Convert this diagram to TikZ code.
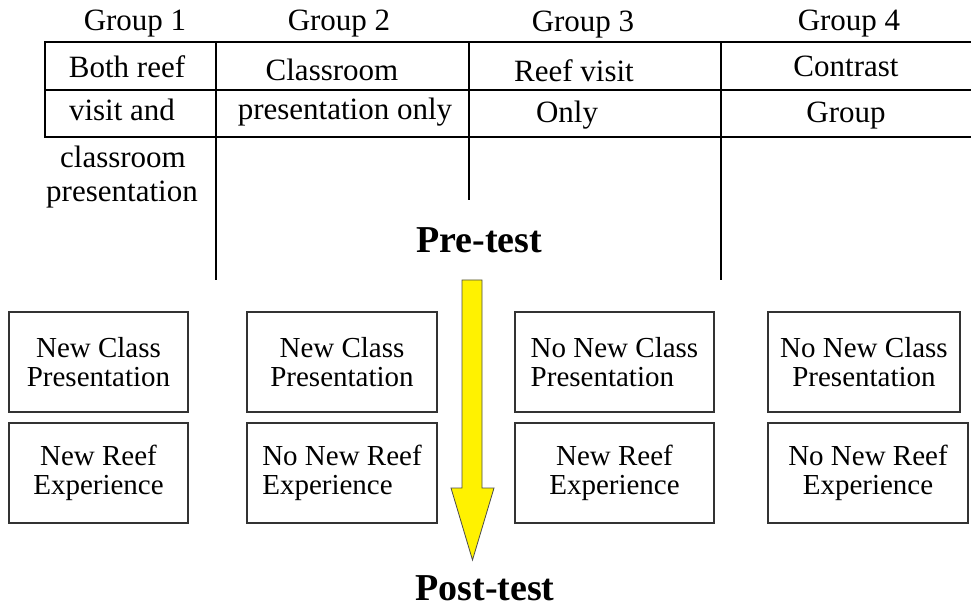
\documentclass[tikz,border=0pt]{standalone}
\usepackage{fontspec}
\setmainfont{Liberation Serif}
\begin{document}
\begin{tikzpicture}[x=1pt,y=-1pt,
  lbl/.style={font=\fontsize{31}{33}\selectfont,inner sep=0pt,anchor=base},
  ttl/.style={font=\fontsize{38}{40}\selectfont\bfseries,inner sep=0pt,anchor=base},
  cond/.style={draw=black!80,line width=1.4pt,minimum height=100,inner sep=0pt,
    align=center,font=\fontsize{29}{29}\selectfont}]
  \useasboundingbox (0,0) rectangle (971,609);
  \draw[line width=1.4pt] (971,42) -- (45,42) -- (45,137) -- (971,137);
  \draw[line width=1.4pt] (45,90) -- (971,90);
  \draw[line width=1.3pt] (216,42) -- (216,280);
  \draw[line width=1.3pt] (469,42) -- (469,200);
  \draw[line width=1.3pt] (721,42) -- (721,280);
  \node[lbl] (g1) at (135,31) {Group 1};
  \node[lbl] (g2) at (339,31) {Group 2};
  \node[lbl] (g3) at (583,32) {Group 3};
  \node[lbl] (g4) at (849,31) {Group 4};
  \node[lbl] (t11) at (127,78) {Both reef};
  \node[lbl] (t12) at (122,121) {visit and};
  \node[lbl] (t13) at (123,168) {classroom};
  \node[lbl] (t14) at (122,202) {presentation};
  \node[lbl] (t21) at (332,81) {Classroom};
  \node[lbl] (t22) at (345,120) {presentation only};
  \node[lbl] (t31) at (574,82) {Reef visit};
  \node[lbl] (t32) at (567,123) {Only};
  \node[lbl] (t41) at (846,77) {Contrast};
  \node[lbl] (t42) at (846,123) {Group};
  \node[ttl] (pre) at (479,253) {Pre-test};
  \node[ttl] (post) at (485,600) {Post-test};
  \filldraw[fill=yellow,draw=black!70,line width=0.8pt]
    (462,280) -- (482,280) -- (482,488) -- (494,488) -- (472.5,560)
    -- (451,488) -- (462,488) -- cycle;
  \node[cond,minimum width=179] (c1) at (98.5,362) {New Class\\Presentation};
  \node[cond,minimum width=179] (r1) at (98.5,473) {New Reef\\Experience};
  \node[cond,minimum width=190] (c2) at (342,362) {New Class\\Presentation};
  \node[cond,minimum width=190,align=left] (r2) at (342,473) {No New Reef\\Experience};
  \node[cond,minimum width=199,align=left] (c3) at (614.5,362) {No New Class\\Presentation};
  \node[cond,minimum width=199] (r3) at (614.5,473) {New Reef\\Experience};
  \node[cond,minimum width=192] (c4) at (864,362) {No New Class\\Presentation};
  \node[cond,minimum width=200] (r4) at (868,473) {No New Reef\\Experience};
\end{tikzpicture}
\end{document}
